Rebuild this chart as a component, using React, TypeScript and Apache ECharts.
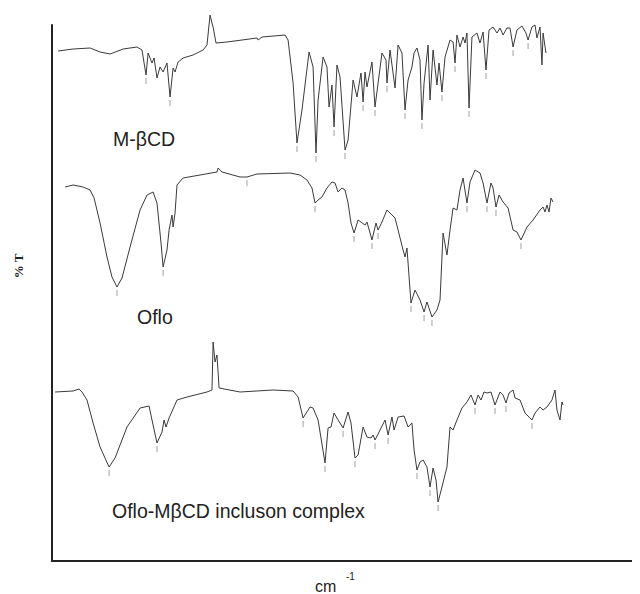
import React, { useEffect, useRef } from "react";
import * as echarts from "echarts";

// Wavenumber (cm-1) vs stacked %T (offset per spectrum)
const mbcd: [number, number][] = [
  [4014, 255], [3906, 256], [3784, 256.5], [3712, 254.5], [3640, 253.5], [3546, 256], [3446, 257], [3410, 255.5],
  [3381, 243], [3366, 254], [3338, 249], [3323, 251.5], [3302, 241.5], [3280, 247], [3258, 244.5], [3230, 249],
  [3208, 232], [3186, 246.5], [3172, 244.5], [3150, 249.5], [3114, 251.5], [3042, 253], [2970, 255.5], [2942, 258],
  [2920, 273], [2906, 269], [2898, 267], [2877, 259], [2798, 259.5], [2582, 261.5], [2574, 260.5], [2546, 262],
  [2380, 263], [2358, 260.5], [2322, 239], [2294, 209], [2258, 225.5], [2207, 254.5], [2178, 247], [2157, 204],
  [2142, 230.5], [2106, 252], [2078, 247], [2063, 227], [2042, 238], [2027, 217], [2006, 248], [1984, 242],
  [1948, 205.5], [1926, 210.5], [1890, 240.5], [1862, 232], [1833, 244], [1818, 229.5], [1804, 244.5], [1790, 237],
  [1754, 249.5], [1732, 227], [1710, 239], [1682, 254], [1653, 250.5], [1646, 239], [1624, 255.5], [1588, 236.5],
  [1566, 258], [1538, 254], [1516, 225.5], [1494, 240.5], [1466, 247], [1451, 254], [1430, 256.5], [1408, 250.5],
  [1394, 220.5], [1379, 239], [1350, 258], [1336, 230.5], [1314, 255.5], [1286, 238], [1271, 249], [1250, 234.5],
  [1228, 252], [1192, 260.5], [1170, 259.5], [1156, 249], [1142, 263], [1120, 257], [1098, 262], [1084, 259],
  [1070, 264], [1055, 226.5], [1034, 262], [998, 264], [976, 259], [954, 264.5], [933, 245.5], [911, 265.5],
  [882, 267], [854, 264], [832, 266.5], [810, 263], [782, 266.5], [760, 266.5], [738, 257], [710, 265.5],
  [674, 267.5], [645, 264], [630, 260.5], [602, 267], [580, 268], [566, 261.5], [544, 267], [530, 248],
  [522, 264], [501, 254],
];

const oflo: [number, number][] = [
  [3964, 187], [3906, 188], [3834, 187], [3784, 185.5], [3755, 181.5], [3712, 169], [3662, 152], [3626, 142],
  [3590, 137], [3554, 141.5], [3496, 157], [3424, 175.5], [3374, 183], [3330, 184.5], [3302, 179], [3273, 159],
  [3258, 147], [3230, 155.5], [3215, 165.5], [3194, 173], [3186, 167], [3172, 174], [3158, 188], [3114, 191.5],
  [2992, 193], [2870, 194.5], [2862, 196.5], [2834, 194.5], [2704, 192], [2654, 192], [2582, 193.5], [2344, 194],
  [2272, 193], [2222, 190.5], [2186, 186.5], [2164, 179], [2142, 180.5], [2114, 182], [2078, 186.5], [2042, 189.5],
  [2020, 189], [1998, 184.5], [1970, 186.5], [1948, 185.5], [1926, 179], [1905, 169], [1883, 164], [1854, 170.5],
  [1804, 168], [1790, 169.5], [1754, 160.5], [1725, 169], [1710, 165.5], [1682, 169.5], [1646, 175.5], [1588, 171.5],
  [1566, 165.5], [1530, 155.5], [1516, 152], [1502, 156.5], [1473, 129], [1444, 135.5], [1408, 130.5], [1379, 124.5],
  [1358, 129.5], [1322, 122], [1286, 125.5], [1264, 130.5], [1242, 164], [1214, 153], [1192, 165.5], [1170, 176.5],
  [1142, 175.5], [1120, 185.5], [1098, 191.5], [1070, 179], [1048, 189.5], [1012, 195.5], [976, 194], [954, 189],
  [926, 179], [897, 189], [882, 186.5], [861, 177], [839, 183], [810, 179.5], [774, 176.5], [738, 165.5],
  [710, 164.5], [681, 160.5], [638, 167], [594, 170.5], [544, 175.5], [522, 177], [508, 174.5], [494, 178],
  [479, 174.5], [465, 181.5], [450, 179.5],
];

const complex: [number, number][] = [
  [4036, 84.5], [3906, 85], [3863, 86], [3842, 84.5], [3806, 80.5], [3762, 69], [3712, 57], [3647, 47],
  [3604, 51.5], [3518, 67], [3424, 76.5], [3359, 77.5], [3338, 70.5], [3302, 59], [3266, 64.5], [3251, 70.5],
  [3237, 67], [3215, 71.5], [3158, 80.5], [3086, 82], [2942, 84.5], [2906, 85.5], [2898, 109.5], [2884, 99.5],
  [2870, 103], [2855, 86.5], [2704, 84.5], [2466, 85.5], [2322, 85], [2286, 82], [2250, 71.5], [2200, 77],
  [2178, 76.5], [2142, 70.5], [2092, 49], [2070, 66.5], [2049, 67], [2027, 74], [1998, 70.5], [1962, 66.5],
  [1926, 74.5], [1905, 69], [1876, 51.5], [1854, 53], [1818, 67], [1790, 62], [1761, 61.5], [1746, 63],
  [1732, 60.5], [1703, 64.5], [1660, 70.5], [1638, 63], [1610, 72], [1595, 65.5], [1566, 72], [1523, 72.5],
  [1494, 67], [1466, 69], [1451, 55.5], [1430, 45.5], [1408, 49.5], [1386, 50.5], [1358, 47], [1336, 37],
  [1314, 46.5], [1293, 40.5], [1278, 29.5], [1250, 37], [1214, 47], [1192, 67], [1170, 65.5], [1142, 70.5],
  [1106, 76.5], [1070, 79.5], [1041, 83], [1012, 78], [990, 83], [969, 80.5], [947, 84.5], [926, 84],
  [897, 84.5], [868, 78], [832, 84.5], [810, 83], [789, 79], [767, 84], [738, 85.5], [724, 81.5],
  [688, 80.5], [652, 74], [602, 70.5], [580, 74], [544, 77], [522, 75.5], [494, 77], [458, 80.5],
  [436, 85.5], [422, 75.5], [400, 70.5], [386, 79.5], [378, 78],
];

// Labelled peak positions (small tick marks under the bands)
const mbcdPeaks: [number, number][] = [
  [3381, 243], [3208, 232], [2294, 209], [2157, 204], [2027, 217], [1948, 205.5], [1818, 229.5], [1732, 227],
  [1646, 239], [1516, 225.5], [1394, 220.5], [1250, 234.5], [1156, 249], [1055, 226.5], [933, 245.5], [738, 257],
  [630, 260.5],
];
const ofloPeaks: [number, number][] = [
  [3590, 137], [3258, 147], [2654, 192], [2164, 179], [1883, 164], [1754, 160.5], [1710, 165.5], [1473, 129],
  [1379, 124.5], [1322, 122], [1070, 179], [926, 179], [861, 177], [681, 160.5],
];
const complexPeaks: [number, number][] = [
  [3647, 47], [3302, 59], [2250, 71.5], [2092, 49], [1962, 66.5], [1876, 51.5], [1732, 60.5], [1638, 63],
  [1430, 45.5], [1336, 37], [1278, 29.5], [1012, 78], [868, 78], [789, 79], [602, 70.5],
];

const seriesLabels = ["M-βCD", "Oflo", "Oflo-MβCD incluson complex"];
const yAxisTitle = "% T";
const xAxisTitle = "cm";
const xAxisTitleSup = "-1";

export default function App() {
  const ref = useRef<HTMLDivElement>(null);
  useEffect(() => {
    if (!ref.current) return;
    const chart = echarts.init(ref.current, undefined, { renderer: "svg" });
    const lineSeries = (name: string, data: [number, number][]) => ({
      name,
      type: "line",
      data,
      symbol: "none",
      smooth: false,
      clip: false,
      lineStyle: { color: "#3a3a3a", width: 1 },
      silent: true,
    });
    const peakSeries = (data: [number, number][]) => ({
      type: "scatter",
      data,
      symbol: "rect",
      symbolSize: [1, 6],
      symbolOffset: [0, 6],
      itemStyle: { color: "#888" },
      silent: true,
      z: 1,
    });
    const sans = "Liberation Sans, Arial, sans-serif";
    const lbl = (text: string, x: number, y: number, size: number) => ({
      type: "text",
      x,
      y,
      style: { text, fontFamily: sans, fontSize: size, fill: "#222", align: "left", verticalAlign: "middle" },
    });
    chart.setOption({
      animation: false,
      backgroundColor: "#ffffff",
      grid: { left: 52, right: 0, top: 25, bottom: 33, outerBoundsMode: "none", containLabel: false },
      xAxis: {
        type: "value",
        inverse: true,
        min: -176,
        max: 4058,
        axisLine: { show: true, onZero: false, lineStyle: { color: "#222", width: 2 } },
        axisTick: { show: false },
        axisLabel: { show: false },
        splitLine: { show: false },
      },
      yAxis: {
        type: "value",
        position: "left",
        min: 0,
        max: 268,
        axisLine: { show: true, onZero: false, lineStyle: { color: "#222", width: 2 } },
        axisTick: { show: false },
        axisLabel: { show: false },
        splitLine: { show: false },
      },
      series: [
        lineSeries(seriesLabels[0], mbcd),
        lineSeries(seriesLabels[1], oflo),
        lineSeries(seriesLabels[2], complex),
        peakSeries(mbcdPeaks),
        peakSeries(ofloPeaks),
        peakSeries(complexPeaks),
      ],
      graphic: [
        lbl(seriesLabels[0], 113, 139, 19.5),
        lbl(seriesLabels[1], 137, 317, 19.5),
        lbl(seriesLabels[2], 112, 511, 19.5),
        {
          type: "text",
          x: 18,
          y: 266,
          rotation: Math.PI / 2,
          style: {
            text: yAxisTitle,
            fontFamily: "Liberation Serif, Times New Roman, serif",
            fontWeight: "bold",
            fontSize: 13,
            fill: "#222",
            align: "center",
            verticalAlign: "middle",
          },
        },
        lbl(xAxisTitle, 315, 586, 16),
        lbl(xAxisTitleSup, 346, 576, 10),
      ],
    });
    return () => chart.dispose();
  }, []);
  return <div ref={ref} style={{ width: 640, height: 594, marginLeft: -8, marginTop: -8 }} />;
}
